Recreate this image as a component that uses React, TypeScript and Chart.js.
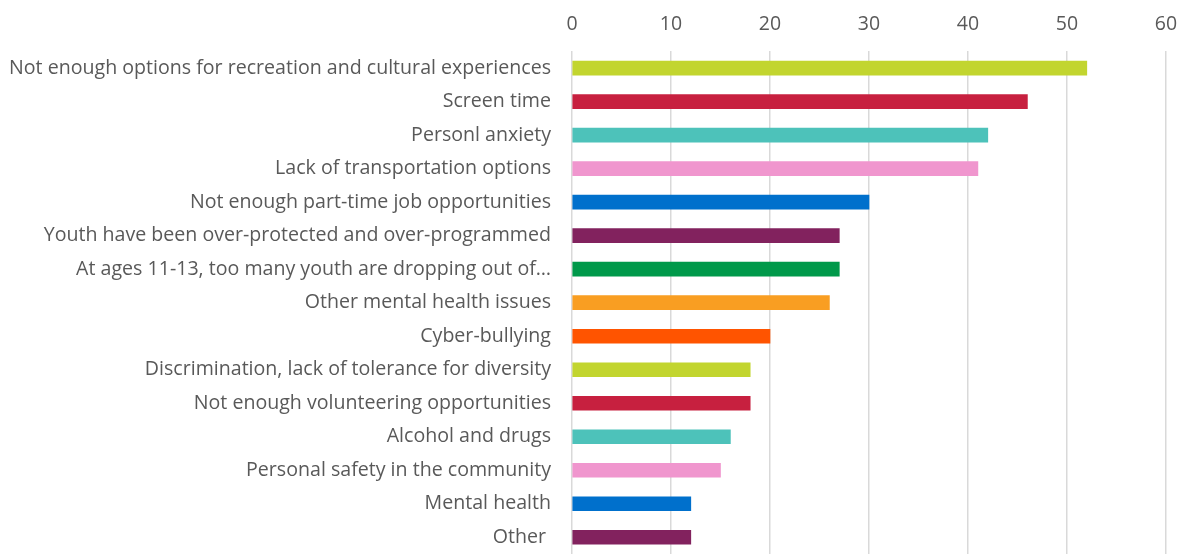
import React, { useEffect, useRef } from "react";
import { Chart, registerables } from "chart.js";

Chart.register(...registerables);

const categories: string[] = [
  "Not enough options for recreation and cultural experiences",
  "Screen time",
  "Personl anxiety",
  "Lack of transportation options",
  "Not enough part-time job opportunities",
  "Youth have been over-protected and over-programmed",
  "At ages 11-13, too many youth are dropping out of…",
  "Other mental health issues",
  "Cyber-bullying",
  "Discrimination, lack of tolerance for diversity",
  "Not enough volunteering opportunities",
  "Alcohol and drugs",
  "Personal safety in the community",
  "Mental health",
  "Other ",
];

const values: number[] = [52, 46, 42, 41, 30, 27, 27, 26, 20, 18, 18, 16, 15, 12, 12];

const barColors: string[] = [
  "#C2D52F",
  "#C7203F",
  "#4DC2BA",
  "#F096CE",
  "#0070CC",
  "#82225E",
  "#00994A",
  "#F99E22",
  "#FF5400",
  "#C2D52F",
  "#C7203F",
  "#4DC2BA",
  "#F096CE",
  "#0070CC",
  "#82225E",
];

const xMin = 0;
const xMax = 60;
const xStep = 10;

const FONT = "'Open Sans', sans-serif";
const TEXT = "#595959";

export default function App() {
  const canvasRef = useRef<HTMLCanvasElement | null>(null);

  useEffect(() => {
    if (!canvasRef.current) return;
    const chart = new Chart(canvasRef.current, {
      type: "bar",
      data: {
        labels: categories,
        datasets: [
          {
            data: values,
            backgroundColor: barColors,
            borderWidth: 0,
            barThickness: 14,
          },
        ],
      },
      options: {
        indexAxis: "y",
        animation: false,
        responsive: false,
        maintainAspectRatio: false,
        layout: { padding: { top: -2, right: 18, left: 0, bottom: -5 } },
        plugins: {
          legend: { display: false },
          tooltip: { enabled: false },
        },
        scales: {
          x: {
            position: "top",
            min: xMin,
            max: xMax,
            afterFit: (scale: any) => {
              scale.paddingLeft = 0;
              scale.paddingRight = 0;
            },
            ticks: {
              stepSize: xStep,
              color: TEXT,
              font: { family: FONT, size: 19.5 },
              padding: 15,
            },
            grid: {
              color: "#D9D9D9",
              lineWidth: 1.5,
              drawTicks: false,
            },
            border: { display: false },
          },
          y: {
            afterFit: (scale: any) => {
              scale.width = 572;
              scale.paddingTop = 0;
              scale.paddingBottom = 0;
            },
            ticks: {
              color: TEXT,
              font: { family: FONT, size: 19.6 },
              padding: 21,
              autoSkip: false,
            },
            grid: { display: false, drawTicks: false },
            border: { display: false },
          },
        },
      },
    });
    return () => chart.destroy();
  }, []);

  return (
    <div style={{ position: "fixed", left: 0, top: 0, width: 1184, height: 554, overflow: "hidden", background: "#fff" }}>
      <canvas ref={canvasRef} width={1184} height={554} style={{ display: "block" }} />
    </div>
  );
}
